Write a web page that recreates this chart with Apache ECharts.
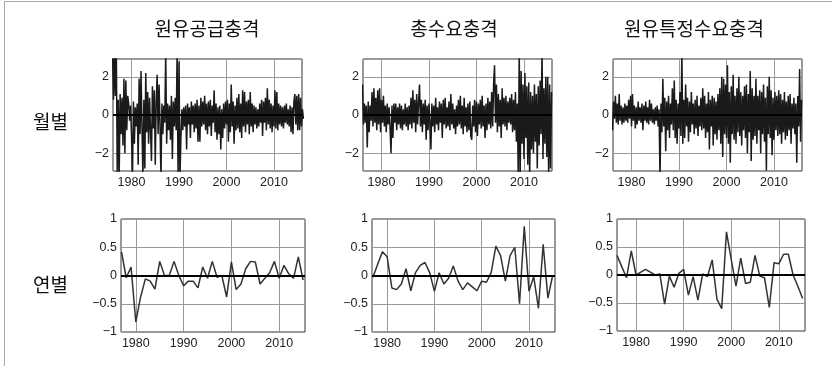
<!DOCTYPE html>
<html>
<head>
<meta charset="utf-8">
<script src="https://cdn.jsdelivr.net/npm/echarts@6/dist/echarts.min.js"></script>
<style>
  html, body { margin: 0; padding: 0; background: #fff; }
  #chart { width: 832px; height: 366px; }
</style>
</head>
<body>
<div id="chart"></div>
<script>
const titles = ["원유공급충격", "총수요충격", "원유특정수요충격"];
const rowLabels = ["월별", "연별"];
const xTickLabels = [1980, 1990, 2000, 2010];
const monthlyYTicks = [-2, 0, 2];
const annualYTicks = [-1, -0.5, 0, 0.5, 1];

// monthly shocks, 5 readings per year starting 1976
const monthlyStart = 1976;
const monthlyStep = 0.2;
const supplyMonthly = [
  3.3, 0.8,
  3.5, 1.0, 3.3, -3.4, 0.8,
  -3.3, 1.1, -1.0, 0.9, -1.6,
  1.9, -2.0, 1.8, -0.8, 1.0,
  0.6, -0.3, 0.5, -1.1, -3.3,
  0.7, -1.5, 0.4, -0.6, 0.6,
  -2.6, 1.9, -1.0, 2.3, -0.6,
  -3.3, 0.8, -2.8, 2.2, -0.9,
  1.2, -1.5, 0.9, -0.8, -2.4,
  1.5, -0.7, 1.3, -2.6, 0.7,
  2.1, -1.0, 1.6, -0.5, -3.3,
  0.6, -1.0, 0.5, -0.4, 3.3,
  -1.5, 0.6, -0.8, 0.5, -1.3,
  1.0, -2.3, 0.7, -0.6, 0.9,
  -0.8, 3.3, -3.3, 2.8, -3.3,
  -1.2, 0.3, -0.8, 0.4, -0.6,
  0.5, -1.8, 0.6, -0.5, 0.4,
  -1.2, 0.7, -0.5, 0.5, -0.9,
  0.6, -0.7, 0.8, -1.4, 0.5,
  -1.4, 0.9, -0.6, 0.7, -0.5,
  1.0, -0.8, 0.6, -1.0, 0.7,
  -0.6, 0.8, -1.1, 0.5, -0.4,
  1.3, -0.9, 0.6, -1.3, 0.4,
  -1.0, 0.5, -1.8, 0.3, -1.2,
  0.6, -0.7, 0.7, -0.5, 0.8,
  -1.4, 0.6, -0.9, 1.6, -0.6,
  0.7, -1.5, 0.5, -0.8, 0.9,
  -0.7, 1.1, -0.9, 0.6, -1.2,
  1.3, -0.6, 1.2, -0.9, 0.7,
  -0.5, 0.8, -1.0, 1.2, -0.6,
  0.6, -0.9, 0.5, -0.5, 0.4,
  -0.7, 0.3, -0.6, 0.6, -0.4,
  0.8, -1.1, 0.7, -0.4, 0.9,
  -0.8, 1.4, -0.5, 0.8, -0.7,
  0.6, -0.9, 0.5, -0.6, 1.3,
  -0.7, 1.2, -0.8, 0.6, -0.5,
  0.5, -0.6, 0.4, -0.7, 0.5,
  -0.4, 0.6, -0.5, 0.3, -0.6,
  0.5, -0.9, 0.4, -1.0, 0.7,
  1.1, -0.5, 1.0, -0.8, 1.1,
  -0.8, 0.9, -0.6, 0.3, -0.2
];
const demandMonthly = [
  1.6, -0.5, 0.6, -0.4, 0.5,
  -1.7, 0.7, -0.9, 0.5, -0.3,
  1.2, -0.6, 1.4, -0.4, 0.9,
  -0.8, 1.3, -0.5, 1.4, -0.9,
  0.8, -0.4, 1.0, -0.6, 0.5,
  -0.9, 0.6, -0.5, 0.4, -0.7,
  -2.0, 0.5, -1.2, 0.6, -0.4,
  0.6, -0.8, 0.4, -0.5, 0.6,
  -0.7, 0.5, -0.8, 0.3, -0.5,
  0.6, -0.6, 0.4, -0.8, 0.5,
  -0.5, 0.9, -0.7, 1.3, -0.4,
  0.8, -0.9, 1.1, -0.5, 0.7,
  1.6, -0.6, 0.8, -0.9, 0.6,
  -0.5, 0.8, -1.3, 0.5, -0.8,
  0.6, -0.4, -1.8, 0.6, -0.6,
  0.5, -0.9, 0.9, -0.5, 0.4,
  -0.8, 0.7, -0.4, 0.6, -1.2,
  0.8, -0.5, 0.9, -0.7, 0.4,
  -0.6, 0.7, -0.8, 1.1, -0.5,
  0.6, -0.7, 0.3, -1.0, 0.5,
  -0.6, 0.8, -0.5, 1.0, -0.7,
  0.5, -1.0, 0.9, -0.6, 0.4,
  -0.9, 0.6, -0.8, 0.7, -1.1,
  -1.3, 0.5, -0.6, 0.8, -0.9,
  0.7, -1.1, 0.6, -0.5, 0.8,
  -0.7, 1.0, -0.6, 0.5, -1.2,
  0.6, -0.8, 0.9, -0.5, 0.7,
  -0.7, 1.2, -0.6, 1.6, 2.6,
  -0.4, 1.6, -0.9, 1.1, -0.6,
  0.8, -1.2, 1.4, -0.5, 0.9,
  -0.6, 1.0, -0.8, 0.7, -0.4,
  0.9, -0.5, 1.1, -0.9, 0.8,
  -0.8, 1.2, -1.4, 0.6, -3.4,
  3.4, -3.4, 2.3, -1.5, 1.6,
  -2.3, 2.2, -1.2, 1.5, -2.6,
  1.7, -3.3, 1.2, -1.8, 1.0,
  -2.0, 1.6, -1.4, 1.1, -2.8,
  1.5, -1.6, 1.8, -1.0, 3.4,
  -2.3, 1.4, -1.5, 2.0, -2.2,
  2.0, -3.4, 1.6, -2.8, 1.2
];
const specificMonthly = [
  -0.8, 0.7, -0.2, 1.0, -0.4,
  0.6, -0.5, 1.1, -0.3, 0.5,
  -0.5, 0.4, -0.4, 0.6, -0.3,
  0.5, -0.4, 0.8, -0.2, 1.0,
  -0.6, 1.1, -0.3, 0.5, -0.7,
  0.4, -0.5, 0.7, -0.3, 0.4,
  -0.4, 0.6, -0.8, 0.5, -0.3,
  0.7, -0.4, 0.4, -0.5, 0.8,
  -0.3, 0.6, -0.4, 0.3, -0.5,
  0.4, -0.3, 0.5, -0.6, 0.3,
  -3.4, 0.6, -0.9, 1.9, -0.6,
  0.9, -1.9, 0.7, -0.8, 1.0,
  -1.2, 0.6, -0.5, 1.4, -0.8,
  1.8, -1.2, 0.8, -1.5, 0.6,
  -0.7, 1.2, -1.1, 3.4, -1.5,
  0.8, -1.2, 1.6, -0.6, 0.9,
  -1.4, 0.7, -0.9, 1.2, -0.5,
  0.6, -1.0, 0.8, -0.7, 1.0,
  -1.1, 0.5, -0.6, 0.9, -0.8,
  1.4, -0.7, 1.0, -1.2, 0.6,
  -0.9, 1.2, -1.8, 0.8, -0.6,
  1.0, -1.6, 0.9, -1.0, 0.7,
  -1.3, 1.1, -0.8, 1.4, -1.5,
  2.0, -2.2, 1.9, -1.0, 1.6,
  -1.2, 2.6, -1.5, 1.2, -2.5,
  1.5, -1.0, 2.1, -1.3, 1.0,
  -1.5, 1.4, -0.9, 2.0, -1.1,
  1.2, -1.6, 1.0, -0.8, 1.5,
  -1.2, 1.6, -2.0, 1.1, -0.9,
  2.3, -2.4, 1.4, -1.3, 1.0,
  -1.1, 1.9, -1.5, 1.0, -0.8,
  1.3, -2.0, 1.2, -1.0, 1.6,
  -1.4, 0.9, -2.9, 1.5, -1.0,
  2.0, -1.2, 1.3, -2.1, 0.9,
  -1.3, 1.2, -0.8, 1.0, -1.1,
  1.3, -1.0, 1.1, -1.5, 0.8,
  -0.9, 1.2, -1.3, 0.7, -1.1,
  1.0, -0.8, 1.1, -1.5, 0.6,
  -0.7, 0.9, -1.0, 0.6, -2.5,
  1.0, -0.6, 2.4, -1.4, 0.8
];

// annual shocks
const annualYears = [1977, 1978, 1979, 1980, 1981, 1982, 1983, 1984, 1985, 1986,
  1987, 1988, 1989, 1990, 1991, 1992, 1993, 1994, 1995, 1996,
  1997, 1998, 1999, 2000, 2001, 2002, 2003, 2004, 2005, 2006,
  2007, 2008, 2009, 2010, 2011, 2012, 2013, 2014, 2015];
const specificYears = [1976, 1977, 1978, 1979, 1980, 1981, 1982, 1983, 1984, 1985, 1986,
  1987, 1988, 1989, 1990, 1991, 1992, 1993, 1994, 1995, 1996,
  1997, 1998, 1999, 2000, 2001, 2002, 2003, 2004, 2005, 2006,
  2007, 2008, 2009, 2010, 2011, 2012, 2013, 2014, 2015];
const supplyAnnual = [0.42, -0.04, 0.15, -0.82, -0.38, -0.06, -0.1, -0.24, 0.25, 0.0,
  0.0, 0.25, 0.0, -0.18, -0.1, -0.1, -0.22, 0.15, -0.05, 0.25,
  -0.03, 0.0, -0.38, 0.24, -0.25, -0.15, 0.12, 0.25, 0.24, -0.15,
  -0.05, 0.05, 0.25, -0.05, 0.18, 0.03, -0.05, 0.33, -0.08];
const demandAnnual = [-0.03, 0.2, 0.42, 0.33, -0.22, -0.25, -0.15, 0.12, -0.27, 0.05,
  0.18, 0.23, 0.05, -0.28, 0.05, -0.15, -0.05, 0.17, -0.1, -0.25,
  -0.13, -0.2, -0.27, -0.1, -0.12, 0.05, 0.52, 0.35, -0.1, 0.35,
  0.5, -0.5, 0.87, -0.28, -0.02, -0.58, 0.55, -0.4, 0.0];
const specificAnnual = [0.35, 0.15, -0.05, 0.43, 0.0, 0.05, 0.1, 0.05, 0.0, 0.02, -0.52,
  -0.02, -0.22, 0.03, 0.1, -0.36, -0.03, -0.45, 0.02, -0.03, 0.27,
  -0.43, -0.6, 0.77, 0.28, -0.2, 0.3, -0.15, -0.13, 0.35, -0.02,
  -0.05, -0.58, 0.22, 0.2, 0.37, 0.37, 0.0, -0.2, -0.42];

const monthlySeries = [supplyMonthly, demandMonthly, specificMonthly];
const annualSeries = [
  [annualYears, supplyAnnual],
  [annualYears, demandAnnual],
  [specificYears, specificAnnual]
];

const tickFont = "Liberation Sans";
const hangulFont = '"Noto Sans CJK KR"';

const grids = [
  { left: 113, top: 59, width: 189, height: 112 },
  { left: 363, top: 59, width: 189, height: 112 },
  { left: 613, top: 59, width: 189, height: 112 },
  { left: 121, top: 219, width: 184, height: 113 },
  { left: 372, top: 219, width: 183, height: 113 },
  { left: 617, top: 219, width: 188, height: 112 }
];
const xRanges = [
  [1976.1, 2015.9], [1976.1, 2015.9], [1976.1, 2015.9],
  [1976.9, 2015.4], [1976.8, 2015.5], [1976.0, 2015.5]
];

function fmtNum(v) {
  const s = String(Math.abs(v));
  return v < 0 ? "\u2212" + s : s;
}
function pick(list) {
  return (v) => {
    const hit = list.find((t) => Math.abs(t - v) < 1e-6);
    return hit === undefined ? "" : fmtNum(hit);
  };
}

const chart = echarts.init(document.getElementById("chart"));

const xAxis = [];
const yAxis = [];
const series = [];

grids.forEach((g, i) => {
  const monthly = i < 3;
  xAxis.push({
    type: "value",
    gridIndex: i,
    min: xRanges[i][0],
    max: xRanges[i][1],
    splitNumber: 4,
    axisLine: { show: false },
    axisTick: { show: false },
    axisLabel: {
      formatter: pick(xTickLabels),
      color: "#222",
      fontFamily: tickFont,
      fontSize: 12.5,
      margin: 5,
      showMinLabel: false,
      showMaxLabel: false
    },
    splitLine: { lineStyle: { color: "#999", width: 1 } }
  });
  yAxis.push({
    type: "value",
    gridIndex: i,
    min: monthly ? -2.93 : -1,
    max: monthly ? 2.93 : 1,
    splitNumber: monthly ? 3 : undefined,
    interval: monthly ? undefined : 0.5,
    axisLine: { show: false },
    axisTick: { show: false },
    axisLabel: {
      formatter: pick(monthly ? monthlyYTicks : annualYTicks),
      color: "#222",
      fontFamily: tickFont,
      fontSize: 12.5,
      margin: 4
    },
    splitLine: { lineStyle: { color: "#999", width: 1 } }
  });

  let data;
  if (monthly) {
    data = monthlySeries[i].map((v, k) => [monthlyStart + k * monthlyStep, v]);
  } else {
    const [yrs, vals] = annualSeries[i - 3];
    data = vals.map((v, k) => [yrs[k], v]);
  }
  series.push({
    type: "line",
    xAxisIndex: i,
    yAxisIndex: i,
    data: data,
    symbol: "none",
    clip: true,
    lineStyle: { color: monthly ? "#1a1a1a" : "#333", width: monthly ? 1.5 : 1.5 },
    markLine: {
      silent: true,
      symbol: "none",
      label: { show: false },
      lineStyle: { color: "#000", width: 2, type: "solid" },
      data: [{ yAxis: 0 }]
    }
  });
});

const titleX = [207, 454, 694];
const graphic = [
  { type: "line", shape: { x1: 4, y1: 1.5, x2: 832, y2: 1.5 }, style: { stroke: "#aaa", lineWidth: 1 } },
  { type: "line", shape: { x1: 4.5, y1: 1, x2: 4.5, y2: 366 }, style: { stroke: "#aaa", lineWidth: 1 } }
];
titles.forEach((t, i) => {
  graphic.push({
    type: "text",
    style: {
      text: t, x: titleX[i], y: 29,
      textAlign: "center", textVerticalAlign: "middle",
      font: "19px " + hangulFont, fill: "#111"
    }
  });
});
const rowY = [122, 285];
rowLabels.forEach((t, i) => {
  graphic.push({
    type: "text",
    style: {
      text: t, x: 50.5, y: rowY[i],
      textAlign: "center", textVerticalAlign: "middle",
      font: "19px " + hangulFont, fill: "#111"
    }
  });
});

chart.setOption({
  animation: false,
  backgroundColor: "#fff",
  grid: grids.map((g) => Object.assign({ show: true, borderColor: "#333", borderWidth: 1, backgroundColor: "#fff" }, g)),
  xAxis: xAxis,
  yAxis: yAxis,
  series: series,
  graphic: graphic
});
</script>
</body>
</html>
